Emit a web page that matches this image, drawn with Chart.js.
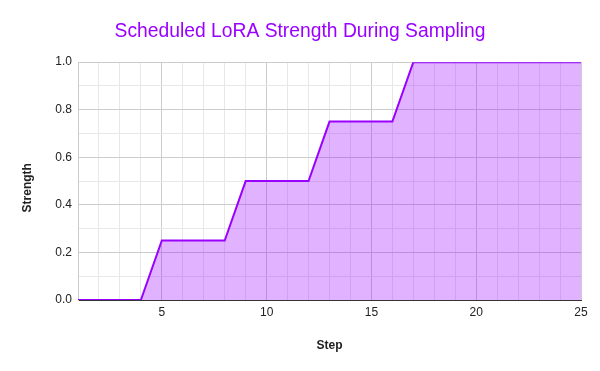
<!DOCTYPE html>
<html>
<head>
<meta charset="utf-8">
<script src="https://cdn.jsdelivr.net/npm/chart.js@4"></script>
<style>
  html, body { margin: 0; padding: 0; background: #fff; }
  #wrap { width: 600px; height: 371px; }
</style>
</head>
<body>
<div id="wrap"><canvas id="chart"></canvas></div>
<script>
const steps    = [1, 2, 3, 4, 5, 6, 7, 8, 9, 10, 11, 12, 13, 14, 15, 16, 17, 18, 19, 20, 21, 22, 23, 24, 25];
const strength = [0, 0, 0, 0, 0.25, 0.25, 0.25, 0.25, 0.5, 0.5, 0.5, 0.5, 0.75, 0.75, 0.75, 0.75, 1, 1, 1, 1, 1, 1, 1, 1, 1];
const xTicks   = [5, 10, 15, 20, 25];

const purple = '#9900ff';
const major = '#cccccc';
const minor = '#e8e8e8';
const font = "Arial, 'Liberation Sans', sans-serif";

new Chart(document.getElementById('chart'), {
  type: 'line',
  data: {
    datasets: [{
      data: steps.map((s, i) => ({ x: s, y: strength[i] })),
      borderColor: purple,
      borderWidth: 2,
      backgroundColor: 'rgba(153,0,255,0.3)',
      fill: 'origin',
      pointRadius: 0,
      tension: 0,
    }],
  },
  options: {
    responsive: true,
    maintainAspectRatio: false,
    animation: false,
    // symmetric padding keeps the title centred on the page
    layout: { padding: { left: 19, right: 19 } },
    plugins: {
      legend: { display: false },
      tooltip: { enabled: false },
      title: {
        display: true,
        text: 'Scheduled LoRA Strength During Sampling',
        color: purple,
        font: { family: font, size: 19.3, weight: 'normal' },
        padding: { top: 20, bottom: 19 },
      },
    },
    scales: {
      x: {
        type: 'linear',
        min: 1, max: 25,
        afterFit: s => { s.height = 71; },
        ticks: {
          stepSize: 1,
          autoSkip: false,
          maxRotation: 0,
          padding: 5,
          color: '#222',
          font: { family: font, size: 12 },
          callback: v => xTicks.includes(v) ? String(v) : '',
        },
        grid: {
          drawTicks: false,
          color: c => (c.tick && c.tick.value % 5 === 0) ? major : minor,
        },
        border: { color: '#333', width: 1 },
        title: {
          display: true,
          text: 'Step',
          color: '#222',
          font: { family: font, size: 12, weight: 'bold' },
          padding: { top: 0, bottom: 18 },
        },
      },
      y: {
        min: 0, max: 1,
        afterFit: s => { s.width = 59; },
        ticks: {
          stepSize: 0.1,
          autoSkip: false,
          padding: 6,
          color: '#222',
          font: { family: font, size: 12 },
          callback: (v, i) => i % 2 === 0 ? v.toFixed(1) : '',
        },
        grid: {
          drawTicks: false,
          color: c => c.index % 2 === 0 ? major : minor,
        },
        border: { color: major },
        title: {
          display: true,
          // trailing spaces nudge the rotated label down a little, like the original
          text: 'Strength    ',
          color: '#222',
          font: { family: font, size: 12, weight: 'bold' },
          padding: { top: 1, bottom: 0 },
        },
      },
    },
  },
});
</script>
</body>
</html>
